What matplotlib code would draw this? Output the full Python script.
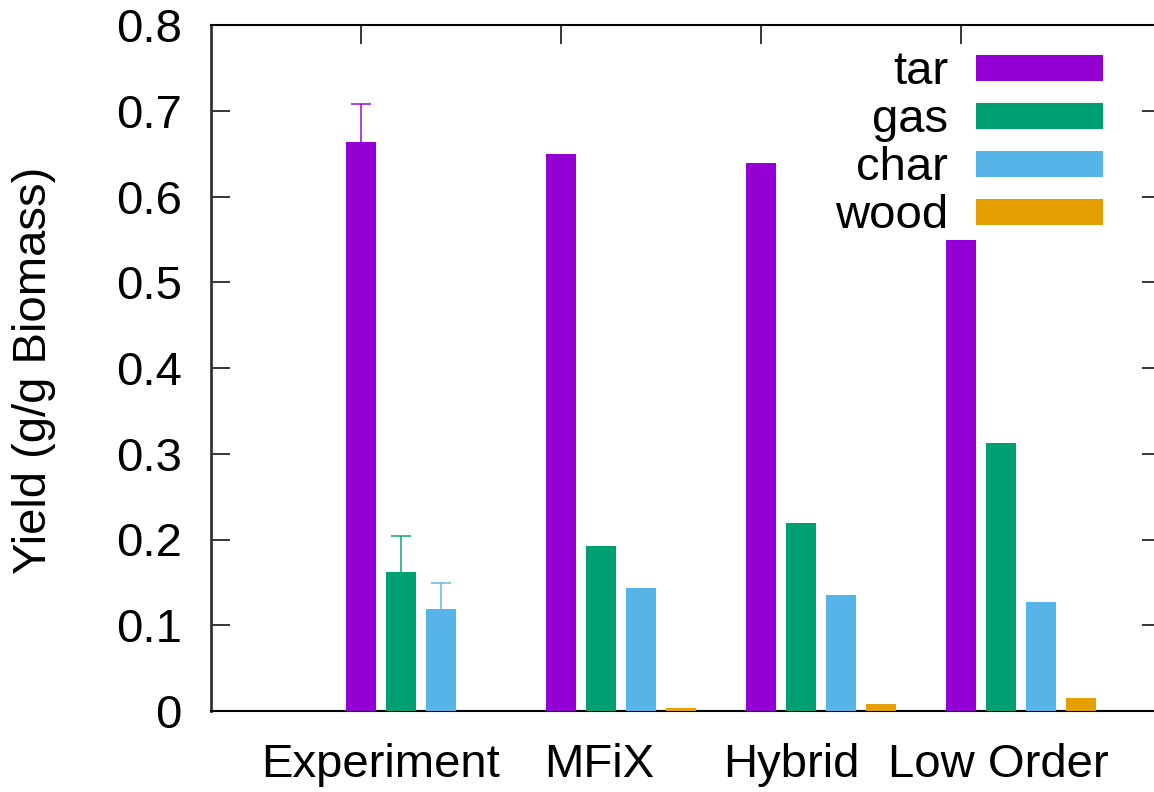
import numpy as np
import matplotlib
matplotlib.use("Agg")
import matplotlib.pyplot as plt
from matplotlib.patches import Rectangle

plt.rcParams['font.family'] = ['Liberation Sans', 'DejaVu Sans']

# Data
cases = ["Experiment", "MFiX", "Hybrid", "Low Order"]
series = ["tar", "gas", "char", "wood"]
tar = [0.663, 0.650, 0.639, 0.549]
gas = [0.162, 0.193, 0.219, 0.312]
char = [0.119, 0.144, 0.135, 0.127]
wood = [0.0, 0.0035, 0.008, 0.015]
# upper error of the experimental measurements (tar, gas, char)
exp_err_up = [0.045, 0.042, 0.030]

colors = ["#9400D3", "#009E73", "#56B4E9", "#E69F00"]
values = [tar, gas, char, wood]

FS = 34

fig = plt.figure(figsize=(11.54, 7.92), dpi=100)
ax = fig.add_axes([211 / 1154, 81 / 792, 950 / 1154, 686 / 792])

n_series = len(series)
slot = 1.0 / (n_series + 1)
width = slot * 0.75
groups = np.arange(len(cases))

for j, (vals, col) in enumerate(zip(values, colors)):
    ax.bar(groups + j * slot, vals, width=width, color=col,
           edgecolor='none', zorder=3)

# one-sided (upward) error bars on the experimental values
for j in range(len(exp_err_up)):
    _, caps, _ = ax.errorbar(groups[0] + j * slot, values[j][0],
                             yerr=[[0], [exp_err_up[j]]], fmt='none',
                             ecolor=colors[j], alpha=0.75, elinewidth=1.4,
                             capsize=7, capthick=1.4, zorder=4)
    caps[0].set_visible(False)

ax.set_xlim(-0.75, 4.0)
ax.set_ylim(0, 0.8)

yt = np.round(np.arange(0, 0.81, 0.1), 1)
ax.set_yticks(yt)
ax.set_yticklabels(["0"] + [f"{v:.1f}" for v in yt[1:]], fontsize=FS)
ax.tick_params(axis='y', direction='in', length=13.5, width=1.1,
               right=True, pad=21)
ax.set_xticks(groups)
ax.set_xticklabels([])
ax.tick_params(axis='x', direction='in', length=13.5, width=1.1,
               top=True, bottom=False)

for side in ['top', 'right', 'bottom']:
    ax.spines[side].set_linewidth(1.5)
ax.spines['left'].set_linewidth(2.0)
ax.spines['left'].set_color('#333333')

# category labels beneath the clusters
label_x = [0.0975, 1.19, 2.15, 3.185]
for xl, name in zip(label_x, cases):
    ax.text(xl, -0.0961, name, transform=ax.get_xaxis_transform(),
            ha='center', va='baseline', fontsize=FS)

fig.text(34 / 1154, 1 - 370 / 792, "Yield (g/g Biomass)", rotation=90,
         ha='center', va='center', fontsize=FS)

# key in the upper right
key_y = [0.9374, 0.8675, 0.7977, 0.7278]
for name, col, yk in zip(series, colors, key_y):
    ax.add_patch(Rectangle((0.8053, yk - 0.0189), 0.1337, 0.0378,
                           transform=ax.transAxes, facecolor=col,
                           edgecolor='none', zorder=5))
    ax.text(0.7758, yk - 0.024, name, transform=ax.transAxes,
            ha='right', va='baseline', fontsize=FS, zorder=5)

fig.savefig("out.png", dpi=100)
